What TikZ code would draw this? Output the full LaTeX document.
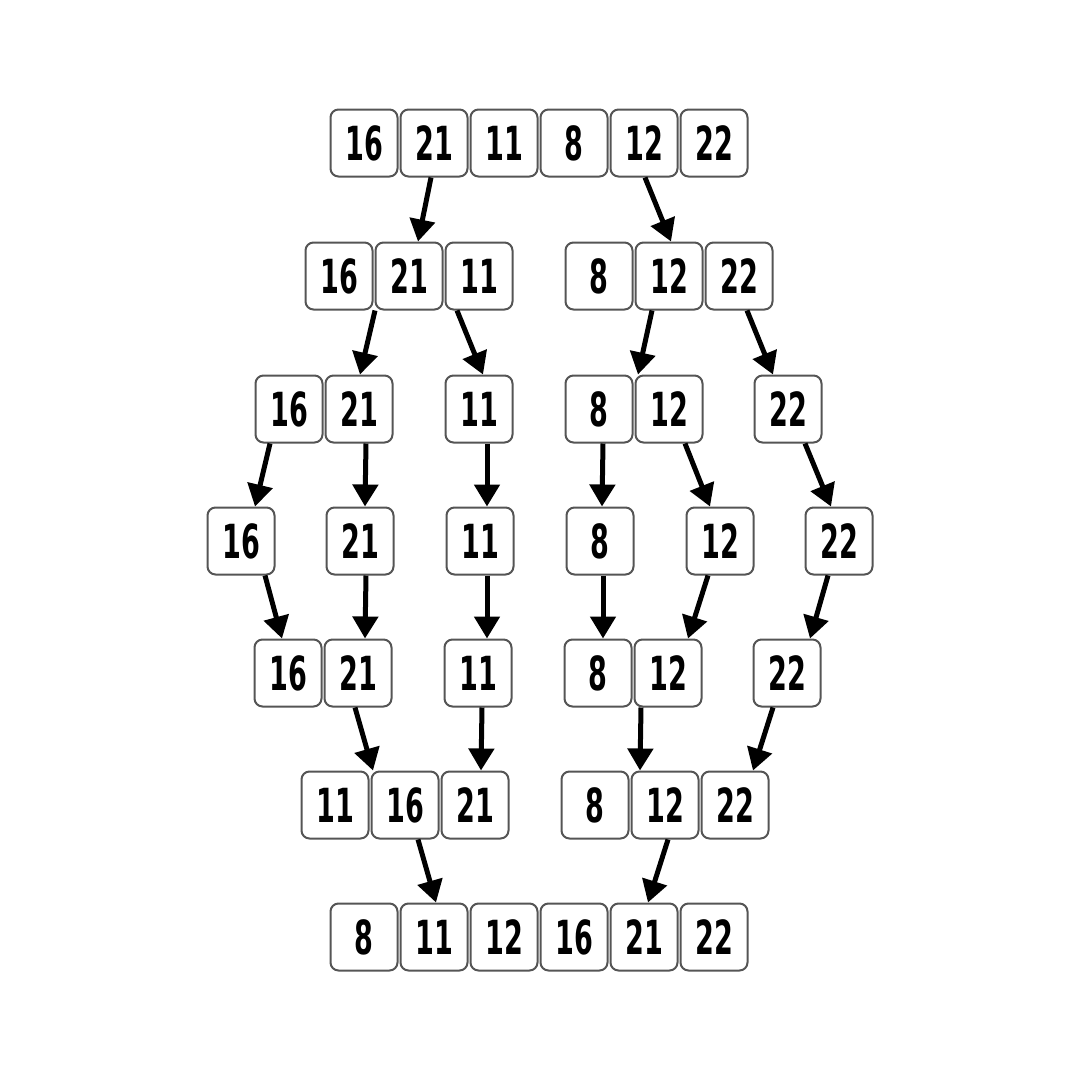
\documentclass[tikz,border=0pt]{standalone}
\usepackage{fontspec}
\usepackage{xcolor}
\usepackage{tikz}
\usetikzlibrary{arrows.meta}
\newfontfamily\numfont{DejaVu Sans Condensed}[BoldFont={DejaVu Sans Condensed Bold},FakeStretch=0.64]
\definecolor{boxgray}{HTML}{555555}

\begin{document}
\begin{tikzpicture}[x=1pt,y=-1pt,
  cell/.style={rectangle, rounded corners=8pt, draw=boxgray, line width=2pt, fill=white,
    minimum width=67pt, minimum height=67pt, inner sep=0pt,
    font=\numfont\bfseries\fontsize{47}{50}\selectfont},
  link/.style={line width=5pt, -{Triangle[length=22pt,width=25pt]}}]
\useasboundingbox (0,0) rectangle (1080,1080);
% Row 1
\node[cell] (a16) at (364,143) {16};
\node[cell] (a21) at (434,143) {21};
\node[cell] (a11) at (504,143) {11};
\node[cell] (a8)  at (574,143) {8};
\node[cell] (a12) at (644,143) {12};
\node[cell] (a22) at (714,143) {22};
% Row 2
\node[cell] (b16) at (339,276) {16};
\node[cell] (b21) at (409,276) {21};
\node[cell] (b11) at (479,276) {11};
\node[cell] (b8)  at (599,276) {8};
\node[cell] (b12) at (669,276) {12};
\node[cell] (b22) at (739,276) {22};
% Row 3
\node[cell] (c16) at (289,409) {16};
\node[cell] (c21) at (359,409) {21};
\node[cell] (c11) at (479,409) {11};
\node[cell] (c8)  at (599,409) {8};
\node[cell] (c12) at (669,409) {12};
\node[cell] (c22) at (788,409) {22};
% Row 4
\node[cell] (d16) at (241,541) {16};
\node[cell] (d21) at (360,541) {21};
\node[cell] (d11) at (480,541) {11};
\node[cell] (d8)  at (600,541) {8};
\node[cell] (d12) at (720,541) {12};
\node[cell] (d22) at (839,541) {22};
% Row 5
\node[cell] (e16) at (288,673) {16};
\node[cell] (e21) at (358,673) {21};
\node[cell] (e11) at (478,673) {11};
\node[cell] (e8)  at (598,673) {8};
\node[cell] (e12) at (668,673) {12};
\node[cell] (e22) at (787,673) {22};
% Row 6
\node[cell] (f11) at (335,805) {11};
\node[cell] (f16) at (405,805) {16};
\node[cell] (f21) at (475,805) {21};
\node[cell] (f8)  at (595,805) {8};
\node[cell] (f12) at (665,805) {12};
\node[cell] (f22) at (735,805) {22};
% Row 7
\node[cell] (g8)  at (364,937) {8};
\node[cell] (g11) at (434,937) {11};
\node[cell] (g12) at (504,937) {12};
\node[cell] (g16) at (574,937) {16};
\node[cell] (g21) at (644,937) {21};
\node[cell] (g22) at (714,937) {22};
% Arrows
\draw[link] ([xshift=-3pt]a21.south) -- ([xshift=9pt]b21.north);
\draw[link] ([xshift=1pt]a12.south) -- ([xshift=2pt]b12.north);
\draw[link] ([xshift=-34pt]b21.south) -- ([xshift=1pt]c21.north);
\draw[link] ([xshift=-22pt]b11.south) -- ([xshift=4pt]c11.north);
\draw[link] ([xshift=-17pt]b12.south) -- ([xshift=-31pt]c12.north);
\draw[link] ([xshift=8pt]b22.south) -- ([xshift=-15pt]c22.north);
\draw[link] ([xshift=-19pt]c16.south) -- ([xshift=14pt]d16.north);
\draw[link] ([xshift=7pt]c21.south) -- ([xshift=5pt]d21.north);
\draw[link] ([xshift=8pt]c11.south) -- ([xshift=7pt]d11.north);
\draw[link] ([xshift=4pt]c8.south) -- ([xshift=2pt]d8.north);
\draw[link] ([xshift=16pt]c12.south) -- ([xshift=-10pt]d12.north);
\draw[link] ([xshift=17pt]c22.south) -- ([xshift=-8pt]d22.north);
\draw[link] ([xshift=24pt]d16.south) -- ([xshift=-6pt]e16.north);
\draw[link] ([xshift=6pt]d21.south) -- ([xshift=7pt]e21.north);
\draw[link] ([xshift=7pt]d11.south) -- ([xshift=9pt]e11.north);
\draw[link] ([xshift=3pt]d8.south) -- ([xshift=5pt]e8.north);
\draw[link] ([xshift=-12pt]d12.south) -- ([xshift=20pt]e12.north);
\draw[link] ([xshift=-11pt]d22.south) -- ([xshift=23pt]e22.north);
\draw[link] ([xshift=-3pt]e21.south) -- ([xshift=-32pt]f16.north);
\draw[link] ([xshift=4pt]e11.south) -- ([xshift=6pt]f21.north);
\draw[link] ([xshift=-27pt]e12.south) -- ([xshift=-25pt]f12.north);
\draw[link] ([xshift=-14pt]e22.south) -- ([xshift=18pt]f22.north);
\draw[link] ([xshift=13pt]f16.south) -- ([xshift=2pt]g11.north);
\draw[link] ([xshift=3pt]f12.south) -- ([xshift=4pt]g21.north);
\end{tikzpicture}
\end{document}
